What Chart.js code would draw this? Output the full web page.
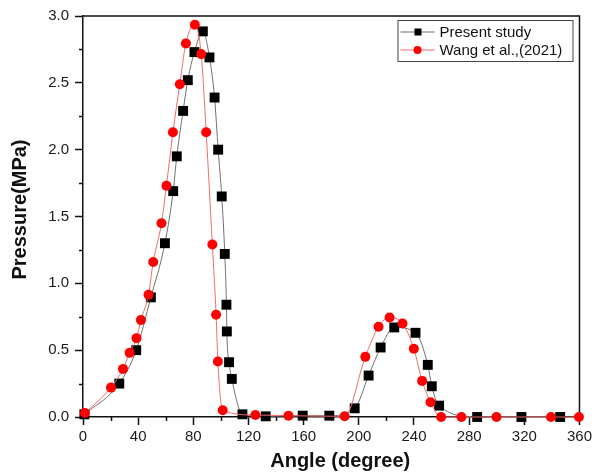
<!DOCTYPE html>
<html>
<head>
<meta charset="utf-8">
<script src="https://cdn.jsdelivr.net/npm/chart.js@4.4.1/dist/chart.umd.min.js"></script>
<style>
  html, body { margin: 0; padding: 0; background: #fff; }
  #chart { display: block; }
</style>
</head>
<body>
<canvas id="chart" width="595" height="475"></canvas>
<script>
// Present study (crank angle in degrees, pressure in MPa)
const presentAngle = [1, 26.3, 38.6, 49.2, 59.4, 65.4, 68, 72.6, 76, 80.8, 86.9, 91.7, 95.4, 98, 100.6,
  102.8, 104, 104.3, 105.9, 107.9, 115.6, 132.5, 159.3, 178.6, 197, 207.1, 215.8, 225.7, 241.1,
  250, 252.9, 258.2, 285.8, 317.9, 346];
const presentPressure = [0.02, 0.25, 0.5, 0.895, 1.3, 1.69, 1.95, 2.29, 2.52, 2.73, 2.885, 2.69, 2.39, 2.0, 1.65,
  1.22, 0.84, 0.64, 0.41, 0.285, 0.02, 0.005, 0.01, 0.01, 0.065, 0.31, 0.52, 0.67, 0.63,
  0.39, 0.23, 0.085, 0.0, 0.0, 0.0];

// Wang et al. (2021)
const wangAngle = [1.4, 20.3, 29, 33.8, 38.8, 42, 47.5, 50.9, 56.9, 60.5, 65.2, 70.2, 74.6, 81.1, 85.7,
  89.3, 93.8, 96.5, 97.8, 101.3, 125, 149, 189.7, 204.7, 214.3, 222.3, 231.7, 239.9, 245.9,
  252, 259.7, 274.4, 299.8, 339.3, 359.6];
const wangPressure = [0.03, 0.22, 0.36, 0.48, 0.59, 0.725, 0.915, 1.16, 1.45, 1.73, 2.13, 2.49, 2.795, 2.935, 2.715,
  2.13, 1.29, 0.765, 0.415, 0.05, 0.015, 0.01, 0.005, 0.45, 0.675, 0.745, 0.7, 0.51, 0.27,
  0.11, 0.0, 0.0, 0.0, 0.0, 0.0];

const angleTicks = [0, 40, 80, 120, 160, 200, 240, 280, 320, 360];
const pressureTicks = [0, 0.5, 1.0, 1.5, 2.0, 2.5, 3.0];

const FONT = '"Liberation Sans", Arial, sans-serif';
Chart.defaults.font.family = FONT;
Chart.defaults.color = '#1a1a1a';

const toPoints = (xs, ys) => xs.map((x, i) => ({ x: x, y: ys[i] }));

// top/right frame plus the short unlabelled ticks between the major ones
const frame = {
  id: 'frame',
  beforeDatasetsDraw(chart) {
    const { ctx, chartArea: a, scales: { x, y } } = chart;
    ctx.save();
    ctx.strokeStyle = '#111';
    ctx.lineWidth = 1.5;
    ctx.beginPath();
    ctx.moveTo(a.left, a.top);
    ctx.lineTo(a.right, a.top);
    ctx.lineTo(a.right, a.bottom);
    ctx.stroke();
    ctx.beginPath();
    for (let i = 0; i < angleTicks.length - 1; i++) {
      const px = Math.round(x.getPixelForValue((angleTicks[i] + angleTicks[i + 1]) / 2)) + 0.5;
      ctx.moveTo(px, a.bottom);
      ctx.lineTo(px, a.bottom + 4);
    }
    for (let i = 0; i < pressureTicks.length - 1; i++) {
      const py = Math.round(y.getPixelForValue((pressureTicks[i] + pressureTicks[i + 1]) / 2)) + 0.5;
      ctx.moveTo(a.left, py);
      ctx.lineTo(a.left - 4, py);
    }
    ctx.stroke();
    ctx.restore();
  }
};

const axisTitles = {
  id: 'axisTitles',
  afterDraw(chart) {
    const { ctx, chartArea: a } = chart;
    ctx.save();
    ctx.fillStyle = '#111';
    ctx.font = 'bold 20px ' + FONT;
    ctx.textAlign = 'center';
    ctx.textBaseline = 'middle';
    ctx.fillText('Angle (degree)', (a.left + a.right) / 2 + 9, a.bottom + 44);
    ctx.translate(20, (a.top + a.bottom) / 2 - 7);
    ctx.rotate(-Math.PI / 2);
    ctx.fillText('Pressure(MPa)', 0, 0);
    ctx.restore();
  }
};

// boxed legend in the top right corner, built from the dataset styles
const boxLegend = {
  id: 'boxLegend',
  afterDraw(chart) {
    const { ctx, chartArea: a } = chart;
    const left = a.right - 182, top = a.top + 4, w = 175, h = 41;
    ctx.save();
    ctx.fillStyle = '#fff';
    ctx.fillRect(left, top, w, h);
    ctx.strokeStyle = '#444';
    ctx.lineWidth = 1;
    ctx.strokeRect(left + 0.5, top + 0.5, w, h);
    chart.data.datasets.forEach((ds, i) => {
      const cy = top + 12 + i * 18;
      ctx.strokeStyle = ds.borderColor;
      ctx.lineWidth = 1.2;
      ctx.beginPath();
      ctx.moveTo(left + 3, cy);
      ctx.lineTo(left + 37, cy);
      ctx.stroke();
      ctx.fillStyle = ds.pointBackgroundColor;
      if (ds.pointStyle === 'rect') {
        ctx.fillRect(left + 17, cy - 3.5, 7, 7);
      } else {
        ctx.beginPath();
        ctx.arc(left + 20, cy, 4, 0, Math.PI * 2);
        ctx.fill();
      }
      ctx.fillStyle = '#111';
      ctx.font = '15px ' + FONT;
      ctx.textAlign = 'left';
      ctx.textBaseline = 'middle';
      ctx.fillText(ds.label, left + 42, cy + 1);
    });
    ctx.restore();
  }
};

new Chart(document.getElementById('chart'), {
  type: 'line',
  data: {
    datasets: [
      {
        label: 'Present study',
        data: toPoints(presentAngle, presentPressure),
        borderColor: '#707070',
        borderWidth: 1,
        pointStyle: 'rect',
        pointRadius: 7,
        pointBackgroundColor: '#000',
        pointBorderWidth: 0,
        cubicInterpolationMode: 'monotone',
        clip: false,
        order: 2
      },
      {
        label: 'Wang et al.,(2021)',
        data: toPoints(wangAngle, wangPressure),
        borderColor: '#f26b6b',
        borderWidth: 1,
        pointStyle: 'circle',
        pointRadius: 5,
        pointBackgroundColor: '#ff0000',
        pointBorderWidth: 0,
        cubicInterpolationMode: 'monotone',
        clip: false,
        order: 1
      }
    ]
  },
  options: {
    responsive: false,
    animation: false,
    devicePixelRatio: 1,
    layout: { padding: { top: 16, right: 15, left: 0, bottom: 0 } },
    plugins: { legend: { display: false }, tooltip: { enabled: false } },
    scales: {
      x: {
        type: 'linear',
        min: 0,
        max: 360,
        afterBuildTicks: s => { s.ticks = angleTicks.map(v => ({ value: v })); },
        afterFit: s => { s.height = 58; },
        border: { display: true, color: '#111', width: 1.5 },
        grid: { drawOnChartArea: false, drawTicks: true, tickLength: 8, tickColor: '#111', tickWidth: 1.5 },
        ticks: { font: { size: 15 }, padding: 3, maxRotation: 0, callback: v => String(v) }
      },
      y: {
        min: 0,
        max: 3,
        afterBuildTicks: s => { s.ticks = pressureTicks.map(v => ({ value: v })); },
        afterFit: s => { s.width = 83; },
        border: { display: true, color: '#111', width: 1.5 },
        grid: { drawOnChartArea: false, drawTicks: true, tickLength: 8, tickColor: '#111', tickWidth: 1.5 },
        ticks: { font: { size: 15 }, padding: 6, callback: v => Number(v).toFixed(1) }
      }
    }
  },
  plugins: [frame, axisTitles, boxLegend]
});
</script>
</body>
</html>
